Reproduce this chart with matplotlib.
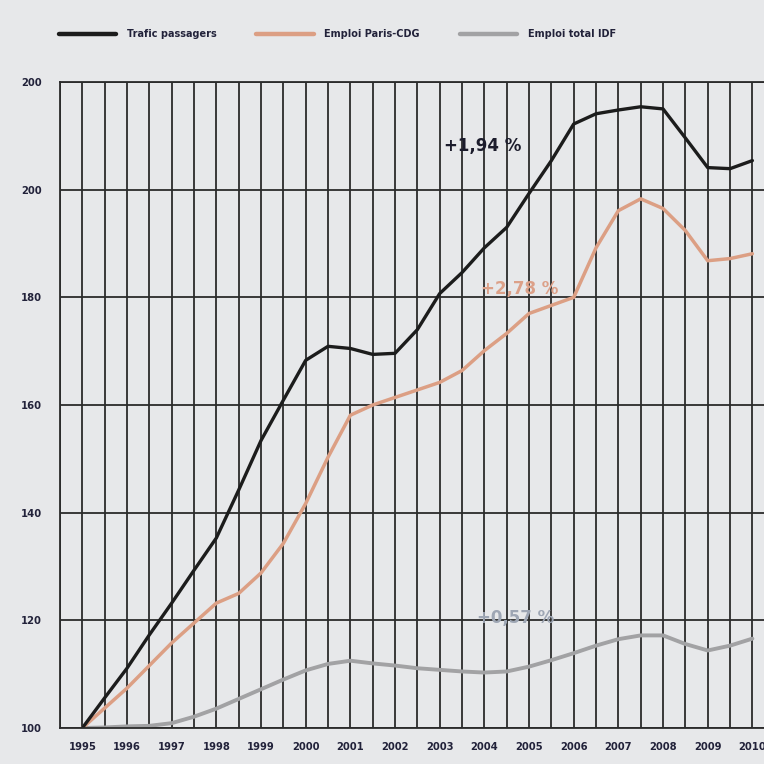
import matplotlib.pyplot as plt
import numpy as np

# Half-yearly readings (index 100 in 1995)
years = np.arange(1995, 2010.01, 0.5)

trafic = [100, 105.6, 111.1, 117.3, 123.2, 129.3, 135.3, 144.2, 153.4, 160.9,
          168.3, 170.9, 170.5, 169.4, 169.6, 174.0, 180.7, 184.6, 189.2, 193.0,
          199.3, 205.4, 212.2, 214.1, 214.8, 215.4, 215.0, 209.6, 204.1, 203.9,
          205.4]
emploi_cdg = [100, 103.7, 107.4, 111.6, 115.8, 119.5, 123.2, 125.0, 128.8, 134.3,
              141.7, 150.3, 158.1, 160.0, 161.4, 162.8, 164.2, 166.4, 170.1, 173.3,
              177.0, 178.5, 180.0, 189.2, 196.1, 198.3, 196.5, 192.4, 186.8, 187.2,
              188.1]
emploi_idf = [100, 100.1, 100.3, 100.4, 100.9, 102.1, 103.6, 105.4, 107.2, 109.0,
              110.7, 111.9, 112.5, 112.0, 111.6, 111.1, 110.8, 110.5, 110.3, 110.5,
              111.4, 112.6, 113.9, 115.3, 116.5, 117.2, 117.2, 115.6, 114.4, 115.3,
              116.6]

series_names = ["Trafic passagers", "Emploi Paris-CDG", "Emploi total IDF"]
growth_labels = ["+1,94 %", "+2,78 %", "+0,57 %"]
growth_pos = [(2003.96, 208.2), (2004.8, 181.6), (2004.7, 120.4)]

year_ticks = list(range(1995, 2011))
y_ticks = [100, 120, 140, 160, 180, 200, 220]
y_tick_labels = ["100", "120", "140", "160", "180", "200", "200"]

bg = '#e7e8ea'
grid_col = '#2b2b2b'
colors = ['#1c1c1c', '#dc9f84', '#a2a2a4']
label_colors = ['#1c1c2c', '#dca088', '#9ea6b4']

plt.rcParams['font.family'] = ['DejaVu Sans']

fig = plt.figure(figsize=(7.64, 7.64), dpi=100, facecolor=bg)
ax = fig.add_axes([60 / 764, 36 / 764, 704 / 764, 646 / 764])
ax.set_facecolor(bg)

ax.set_xlim(1994.54, 2010.26)
ax.set_ylim(100, 220)

ax.set_xticks(year_ticks)
ax.set_xticks(np.arange(1994.5, 2010.3, 0.5), minor=True)
ax.set_xticklabels([str(y) for y in year_ticks], fontsize=7.2, fontweight='bold', color='#22223a')
ax.set_yticks(y_ticks)
ax.set_yticklabels(y_tick_labels, fontsize=7.2, fontweight='bold', color='#22223a')
ax.tick_params(axis='both', which='both', length=0)
ax.tick_params(axis='x', pad=10)
ax.tick_params(axis='y', pad=13)

ax.grid(True, which='both', axis='x', color=grid_col, lw=1.3)
ax.grid(True, which='major', axis='y', color=grid_col, lw=1.3)
ax.set_axisbelow(True)
for side in ['left', 'bottom', 'top']:
    ax.spines[side].set_color(grid_col)
    ax.spines[side].set_linewidth(1.3)
ax.spines['right'].set_visible(False)

ax.plot(years, emploi_idf, color=colors[2], lw=2.8, label=series_names[2], solid_capstyle='round')
ax.plot(years, emploi_cdg, color=colors[1], lw=2.5, label=series_names[1], solid_capstyle='round')
ax.plot(years, trafic, color=colors[0], lw=2.4, label=series_names[0], solid_capstyle='round')

for txt, (px, py), c in zip(growth_labels, growth_pos, label_colors):
    ax.text(px, py, txt, ha='center', va='center', fontsize=12, fontweight='bold', color=c)

handles, labels = ax.get_legend_handles_labels()
fig.legend(handles[::-1], labels[::-1], ncol=3, loc='center left',
           bbox_to_anchor=(50 / 764, 1 - 34 / 764), frameon=False,
           handlelength=5.9, handletextpad=1.1, columnspacing=4.1,
           prop={'weight': 'bold', 'size': 7.0})
for t in fig.legends[0].get_texts():
    t.set_color('#22223a')
for lh in fig.legends[0].legend_handles:
    lh.set_linewidth(3.2)

fig.savefig('out.png', dpi=100, facecolor=bg)
